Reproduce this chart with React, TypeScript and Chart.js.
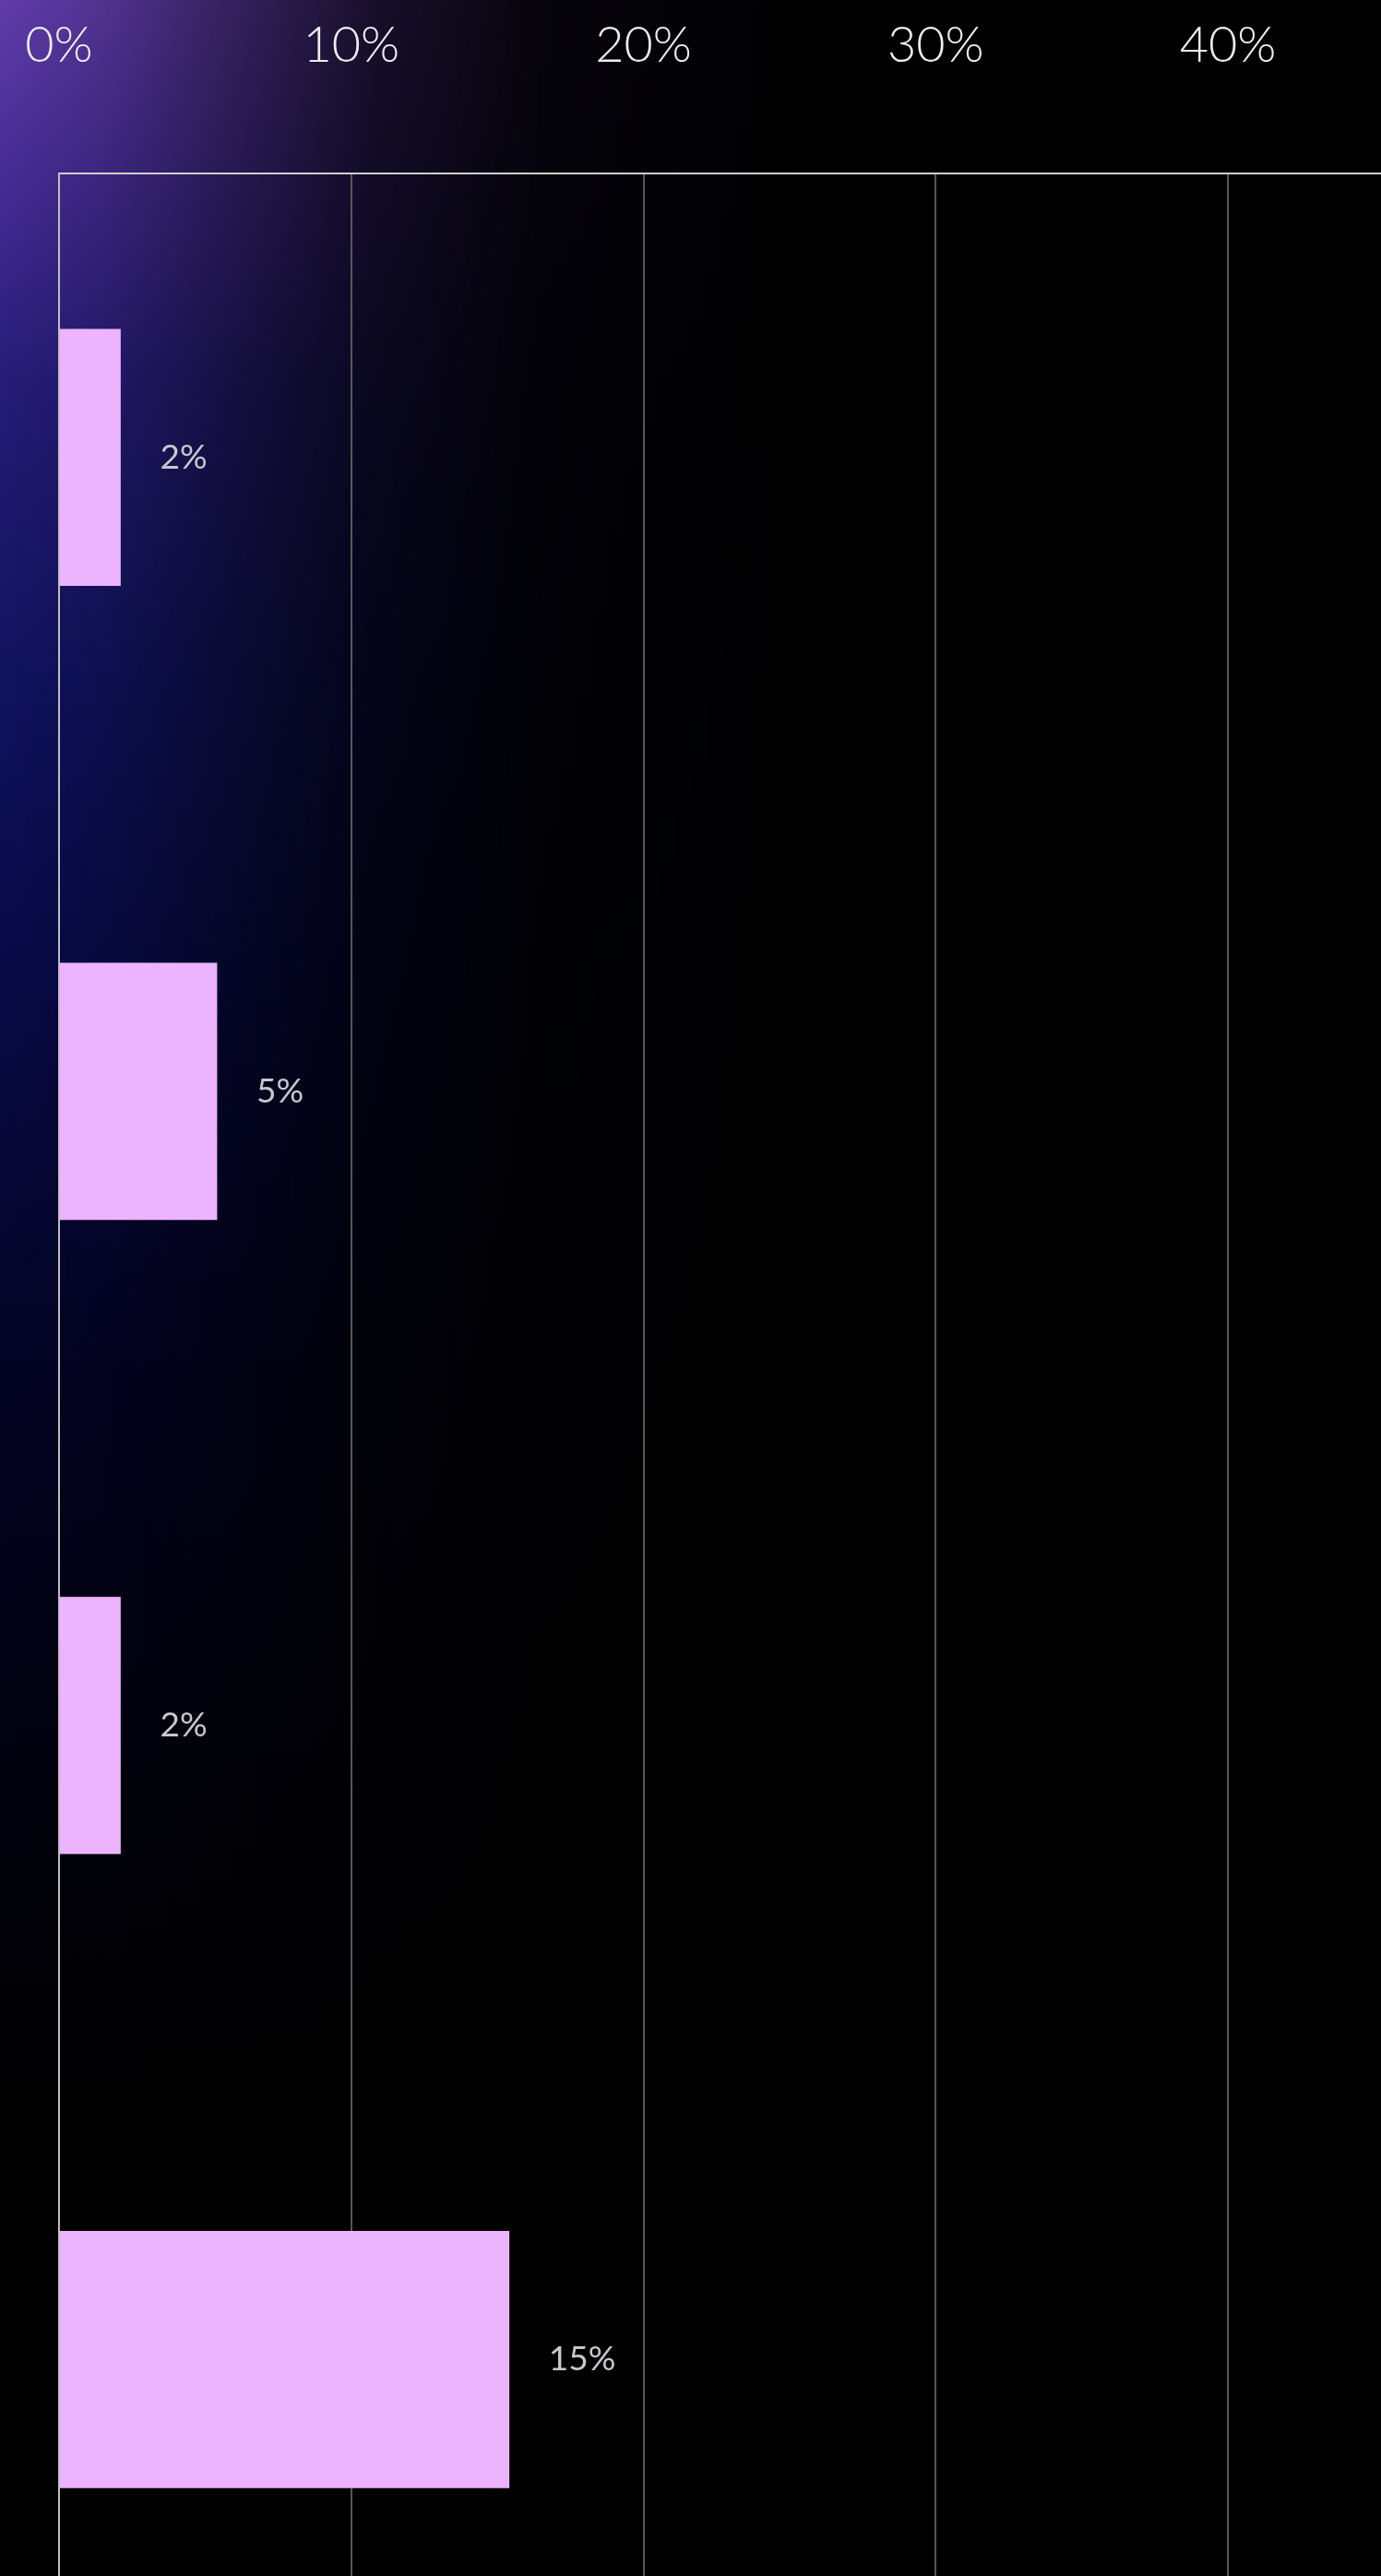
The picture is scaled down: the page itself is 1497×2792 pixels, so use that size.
import React, { useEffect, useRef } from 'react';
import { Chart, registerables } from 'chart.js';

Chart.register(...registerables);

// ---- data ----
const categories = ['Item 1', 'Item 2', 'Item 3', 'Item 4'];
const shares = [2.1, 5.4, 2.1, 15.4]; // percent
const tickStep = 10; // ticks: 0%, 10%, 20%, 30%, 40%

const BAR_COLOR = '#ECB4FE';

const backgroundPlugin = {
  id: 'glowBackground',
  beforeDraw(chart: any) {
    const { ctx, width, height } = chart;
    ctx.save();
    ctx.fillStyle = '#000000';
    ctx.fillRect(0, 0, width, height);
    const W = 900;
    const H = 2300;
    const off = document.createElement('canvas');
    off.width = W;
    off.height = H;
    const o = off.getContext('2d')!;
    const vg = o.createLinearGradient(0, 0, 0, H);
    vg.addColorStop(0, 'rgb(96,60,170)');
    vg.addColorStop(0.08, 'rgb(70,45,150)');
    vg.addColorStop(0.18, 'rgb(38,28,120)');
    vg.addColorStop(0.32, 'rgb(16,18,95)');
    vg.addColorStop(0.45, 'rgb(8,10,72)');
    vg.addColorStop(0.65, 'rgb(3,3,36)');
    vg.addColorStop(0.85, 'rgb(1,1,12)');
    vg.addColorStop(1, 'rgb(0,0,0)');
    o.fillStyle = vg;
    o.fillRect(0, 0, W, H);
    o.globalCompositeOperation = 'destination-in';
    const hg = o.createLinearGradient(0, 0, W, 0);
    hg.addColorStop(0, 'rgba(0,0,0,1)');
    hg.addColorStop(0.12, 'rgba(0,0,0,0.85)');
    hg.addColorStop(0.28, 'rgba(0,0,0,0.55)');
    hg.addColorStop(0.45, 'rgba(0,0,0,0.25)');
    hg.addColorStop(0.65, 'rgba(0,0,0,0.07)');
    hg.addColorStop(1, 'rgba(0,0,0,0)');
    o.fillStyle = hg;
    o.fillRect(0, 0, W, H);
    ctx.drawImage(off, 0, 0);
    ctx.restore();
  },
};

const valueLabelPlugin = {
  id: 'valueLabels',
  afterDatasetsDraw(chart: any) {
    const { ctx } = chart;
    const meta = chart.getDatasetMeta(0);
    ctx.save();
    ctx.font = '400 37px Lato, "Open Sans", sans-serif';
    ctx.fillStyle = '#c8c8cc';
    ctx.textAlign = 'left';
    ctx.textBaseline = 'middle';
    meta.data.forEach((bar: any, i: number) => {
      const { x, y } = bar.getProps(['x', 'y'], true);
      ctx.fillText(`${Math.round(shares[i])}%`, x + 43, y);
    });
    ctx.restore();
  },
};

export default function App() {
  const ref = useRef<HTMLCanvasElement>(null);

  useEffect(() => {
    document.body.style.margin = '0';
    document.body.style.background = '#000';
    const chart = new Chart(ref.current!, {
      type: 'bar',
      data: {
        labels: categories,
        datasets: [
          {
            label: 'Share',
            data: shares.map((v, i) => ({ x: v, y: i })),
            backgroundColor: BAR_COLOR,
            borderWidth: 0,
            barThickness: 278,
          },
        ],
      },
      options: {
        indexAxis: 'y',
        responsive: false,
        animation: false,
        devicePixelRatio: 1,
        layout: { padding: { top: 0, left: 64, right: 0, bottom: 0 } },
        plugins: { legend: { display: false }, tooltip: { enabled: false } },
        scales: {
          x: {
            type: 'linear',
            position: 'top',
            min: 0,
            max: 45.24,
            z: 1,
            afterFit: (scale: any) => {
              scale.height = 188;
              scale.paddingLeft = 0;
              scale.paddingRight = 0;
            },
            ticks: {
              stepSize: tickStep,
              includeBounds: false,
              padding: 106,
              color: '#ededed',
              maxRotation: 0,
              font: { family: 'Lato, "Open Sans", sans-serif', size: 54, weight: '300' },
              callback: (v: any) => `${v}%`,
            },
            grid: {
              color: (c: any) => (c.tick && c.tick.value === 0 ? 'rgba(0,0,0,0)' : 'rgba(110,110,110,0.78)'),
              lineWidth: 2,
              drawTicks: false,
            },
            border: { display: true, color: '#cfcfcf', width: 2 },
          },
          y: {
            type: 'linear',
            reverse: true,
            offset: false,
            min: -0.4478,
            max: 3.3415,
            z: 2,
            afterFit: (scale: any) => {
              scale.width = 0;
              scale.paddingTop = 0;
              scale.paddingBottom = 0;
            },
            ticks: { display: false },
            grid: { display: false, drawTicks: false },
            border: { display: true, color: '#bdbdbd', width: 2 },
          },
        },
      },
      plugins: [backgroundPlugin, valueLabelPlugin],
    } as any);
    return () => chart.destroy();
  }, []);

  return <canvas ref={ref} width={1497} height={2792} style={{ display: 'block' }} />;
}
